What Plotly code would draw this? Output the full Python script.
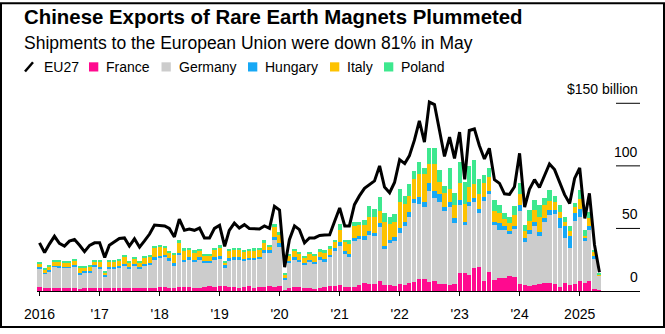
import pandas as pd
import plotly.graph_objects as go

# Monthly shipments, Jan 2016 - May 2025
months = pd.date_range("2016-01-01", "2025-05-01", freq="MS")

france = [
    3.4, 2.6, 2.8, 2.6, 2.6, 2.2, 2.4, 2.4, 2.0, 2.4, 2.6, 2.2,
    2.2, 2.4, 2.6, 2.4, 2.4, 2.8, 2.6, 2.4, 2.4, 2.8, 2.6, 2.8,
    3.2, 3.0, 2.8, 2.6, 3.0, 3.4, 3.2, 2.8, 2.6, 3.0, 3.6, 3.2,
    4.0, 3.6, 3.0, 3.2, 2.8, 3.4, 3.6, 2.8, 3.0, 3.2, 3.6, 3.4,
    3.8, 1.0, 2.8, 3.0, 3.2, 2.2, 2.4, 2.0, 2.6, 3.0, 3.8, 3.6,
    4.6, 3.0, 3.2, 3.4, 4.6, 6.0, 5.2, 5.4, 7.8, 4.8, 4.6, 3.6,
    5.2, 4.8, 6.5, 7.3, 9.9, 9.4, 7.3, 7.8, 5.5, 5.5, 4.7, 5.2,
    14.6, 14.6, 12.5, 18.2, 19.0, 7.8, 15.0, 9.0, 10.4, 10.4, 12.0, 11.2,
    5.2, 4.7, 4.2, 4.7, 5.7, 6.3, 6.3, 5.7, 3.4, 6.5, 4.7, 5.2,
    8.0, 6.0, 7.8, 1.6, 1.0,
]
germany = [
    14.8, 11.0, 13.0, 16.9, 16.2, 16.3, 16.1, 17.4, 11.5, 12.2, 12.5, 17.6,
    16.0, 9.4, 15.1, 15.8, 16.6, 17.5, 14.6, 17.9, 15.3, 17.5, 18.5, 22.7,
    23.3, 24.2, 21.4, 17.7, 26.4, 19.5, 21.8, 20.6, 22.4, 19.4, 18.8, 21.8,
    21.5, 14.9, 21.2, 22.3, 22.7, 20.8, 21.4, 22.2, 22.5, 27.5, 27.1, 37.6,
    31.7, 8.5, 19.2, 22.0, 19.7, 18.6, 21.0, 19.6, 22.4, 19.9, 23.0, 28.4,
    31.3, 26.4, 23.6, 36.4, 37.1, 35.1, 39.8, 38.9, 43.2, 28.5, 33.9, 36.4,
    41.2, 46.8, 52.4, 63.0, 59.9, 57.8, 72.9, 66.7, 65.5, 58.5, 62.5, 49.0,
    53.9, 38.3, 55.2, 52.8, 43.5, 64.1, 62.6, 43.9, 38.6, 38.6, 33.8, 38.3,
    58.8, 34.3, 41.6, 47.3, 38.0, 49.2, 54.4, 55.8, 46.9, 35.9, 29.9, 51.1,
    51.4, 33.8, 40.6, 23.9, 11.0,
]
hungary = [
    0.8, 0.8, 1.0, 0.8, 1.0, 1.0, 1.0, 1.0, 1.2, 1.0, 1.0, 1.2,
    0.8, 1.0, 1.1, 1.1, 1.0, 1.3, 1.6, 1.3, 1.3, 1.3, 1.3, 1.3,
    1.3, 1.4, 1.8, 2.1, 1.3, 2.1, 1.8, 1.6, 1.8, 1.8, 1.8, 1.8,
    2.1, 2.0, 1.8, 1.3, 1.5, 1.6, 1.6, 1.6, 1.6, 1.9, 1.9, 2.2,
    2.8, 0.5, 2.0, 1.8, 2.1, 1.3, 1.6, 1.8, 1.8, 2.6, 1.8, 2.6,
    3.1, 2.6, 2.6, 2.6, 2.1, 3.2, 2.7, 2.1, 3.0, 2.6, 2.6, 3.5,
    3.9, 3.9, 4.4, 3.4, 5.2, 3.8, 5.8, 5.7, 6.6, 3.2, 3.8, 3.8,
    3.9, 2.6, 3.3, 3.5, 3.4, 3.1, 2.6, 2.6, 5.2, 2.6, 1.9, 2.1,
    4.5, 3.4, 3.2, 3.5, 3.2, 2.5, 4.3, 3.5, 7.7, 9.2, 9.2, 6.2,
    6.5, 2.6, 3.2, 2.1, 0.5,
]
italy = [
    3.1, 2.8, 2.6, 3.4, 3.6, 3.5, 3.5, 3.4, 4.1, 3.4, 3.4, 2.8,
    4.4, 2.1, 4.6, 4.3, 4.4, 5.6, 3.8, 4.4, 3.9, 5.0, 5.0, 7.6,
    7.0, 6.0, 4.7, 6.2, 7.8, 7.0, 6.5, 5.7, 5.2, 3.4, 4.4, 6.5,
    7.0, 2.4, 6.0, 5.8, 5.8, 5.5, 5.7, 6.0, 6.2, 5.9, 2.6, 7.8,
    6.7, 3.0, 4.0, 5.2, 4.4, 4.7, 4.4, 4.2, 4.7, 5.2, 5.3, 4.4,
    10.0, 7.0, 7.8, 9.6, 9.1, 8.6, 11.7, 13.0, 10.0, 19.6, 12.5, 11.5,
    20.7, 14.3, 13.0, 15.6, 18.8, 22.7, 15.6, 21.4, 9.9, 10.8, 10.5, 10.5,
    14.3, 14.3, 11.8, 10.9, 11.7, 11.7, 10.8, 8.5, 7.8, 5.7, 7.0, 9.1,
    9.0, 5.6, 7.3, 9.1, 12.5, 10.5, 6.9, 6.0, 5.3, 3.9, 4.0, 5.0,
    7.8, 1.9, 6.4, 3.7, 0.5,
]
poland = [
    0.9, 0.8, 1.1, 1.3, 1.1, 1.0, 1.0, 1.3, 0.7, 0.8, 0.8, 0.8,
    1.1, 0.9, 1.1, 1.4, 1.4, 1.1, 1.2, 1.1, 0.8, 1.0, 1.1, 1.9,
    1.8, 1.4, 1.1, 2.1, 2.1, 2.6, 1.3, 2.1, 1.9, 1.8, 0.8, 1.3,
    2.4, 1.1, 1.9, 2.0, 1.8, 1.5, 1.6, 1.5, 1.3, 1.9, 1.5, 2.5,
    2.0, 1.5, 1.5, 1.9, 1.9, 1.2, 1.6, 1.8, 1.8, 1.9, 2.1, 2.0,
    4.6, 2.0, 3.4, 3.5, 2.6, 3.9, 8.3, 6.5, 11.5, 7.0, 5.8, 6.5,
    10.5, 6.5, 9.1, 6.5, 9.3, 4.7, 12.4, 12.4, 9.5, 6.0, 16.9, 9.5,
    16.3, 17.7, 16.9, 19.6, 11.7, 6.0, 7.4, 8.4, 6.5, 4.7, 4.7, 7.0,
    9.0, 4.7, 8.7, 8.3, 9.1, 6.0, 8.8, 5.3, 5.2, 3.9, 4.3, 3.0,
    7.0, 4.1, 5.3, 1.5, 0.6,
]
eu27 = [
    38.5, 30.7, 37.5, 43.7, 38.0, 35.9, 39.8, 41.1, 36.5, 31.5, 36.5, 38.5,
    38.5, 26.8, 36.5, 39.0, 42.0, 42.4, 35.9, 41.7, 35.0, 40.0, 45.5, 52.7,
    52.5, 52.0, 50.0, 43.2, 57.5, 48.5, 49.5, 48.5, 50.3, 42.4, 42.4, 50.0,
    52.5, 35.6, 48.5, 54.3, 50.3, 53.0, 50.0, 49.5, 49.5, 52.0, 50.0, 67.7,
    64.6, 19.0, 41.0, 52.0, 49.0, 38.5, 42.4, 42.4, 44.4, 44.8, 45.0, 55.5,
    66.3, 52.0, 52.0, 69.0, 76.0, 82.0, 85.0, 88.0, 100.0, 83.0, 78.5, 86.7,
    105.0, 101.8, 108.0, 120.5, 136.0, 119.0, 151.0, 149.0, 128.0, 107.5, 123.0, 106.0,
    127.0, 89.3, 128.3, 129.5, 116.3, 105.5, 114.0, 89.0, 86.0, 77.7, 77.2, 83.3,
    110.0, 67.0, 81.3, 89.0, 82.7, 93.0, 101.5, 97.0, 87.5, 77.0, 70.0, 90.0,
    98.3, 58.0, 78.0, 37.0, 15.0,
]

tick_dates = [f"{y}-01-01" for y in range(2016, 2026)]
tick_text = ["2016", "'17", "'18", "'19", "'20", "'21", "'22", "'23", "'24", "2025"]
y_ticks = [0, 50, 100, 150]
y_tick_text = ["0", "50", "100", "$150 billion"]

series = [
    ("France", france, "#ff0a8f"),
    ("Germany", germany, "#cccccc"),
    ("Hungary", hungary, "#17a8f5"),
    ("Italy", italy, "#fdc200"),
    ("Poland", poland, "#3de88e"),
]

FONT = "Liberation Sans, Arial, Helvetica, sans-serif"
W, H = 665, 334
ML, MR, MT, MB = 37, 25, 91, 38
PW, PH = W - ML - MR, H - MT - MB
BASE = MT + PH


def fx(px):
    return (px - ML) / PW


def fy(py):
    return (BASE - py) / PH


fig = go.Figure()
for name, vals, color in series:
    fig.add_trace(go.Bar(
        x=months, y=vals, name=name,
        marker=dict(color=color, line=dict(width=0)),
        showlegend=False,
    ))
fig.add_trace(go.Scatter(
    x=months, y=eu27, name="EU27", mode="lines",
    line=dict(color="#000000", width=3, shape="linear"),
    showlegend=False,
))

shapes = []
annotations = []

# right-hand value ticks: short rules with labels above
for v, t in zip(y_ticks, y_tick_text):
    if v > 0:
        shapes.append(dict(type="line", xref="paper", yref="y",
                           x0=fx(616), x1=1.0, y0=v, y1=v,
                           line=dict(color="#000000", width=1)))
    annotations.append(dict(text=t, xref="paper", yref="y", x=1.0, y=v,
                            xanchor="right", yanchor="middle", yshift=14,
                            showarrow=False,
                            font=dict(size=14, color="#000000", family=FONT)))

# titles
annotations.append(dict(text="<b>Chinese Exports of Rare Earth Magnets Plummeted</b>",
                        xref="paper", yref="paper", x=fx(22), y=fy(15),
                        xanchor="left", yanchor="middle", showarrow=False,
                        font=dict(size=20.4, color="#000000", family=FONT)))
annotations.append(dict(text="Shipments to the European Union were down 81% in May",
                        xref="paper", yref="paper", x=fx(22), y=fy(42),
                        xanchor="left", yanchor="middle", showarrow=False,
                        font=dict(size=17.5, color="#000000", family=FONT)))

# legend row
legend_y = 66.3
shapes.append(dict(type="line", xref="paper", yref="paper",
                   x0=fx(25), y0=fy(71), x1=fx(33), y1=fy(61.5),
                   line=dict(color="#000000", width=2.5)))
annotations.append(dict(text="EU27", xref="paper", yref="paper",
                        x=fx(41.5), y=fy(legend_y), xanchor="left", yanchor="middle",
                        showarrow=False, font=dict(size=14, color="#000000", family=FONT)))
legend_pos = [(89, 104), (161.5, 176.5), (248, 262.5), (330, 344.5), (384, 398.5)]
for (name, _, color), (sx, tx) in zip(series, legend_pos):
    shapes.append(dict(type="rect", xref="paper", yref="paper",
                       x0=fx(sx), x1=fx(sx + 9.3), y0=fy(legend_y - 4.7), y1=fy(legend_y + 4.7),
                       fillcolor=color, line=dict(width=0)))
    annotations.append(dict(text=name, xref="paper", yref="paper",
                            x=fx(tx), y=fy(legend_y), xanchor="left", yanchor="middle",
                            showarrow=False, font=dict(size=14, color="#000000", family=FONT)))

# frame around the whole graphic
shapes.append(dict(type="rect", xref="paper", yref="paper",
                   x0=fx(1), x1=fx(W - 1), y0=fy(H - 1), y1=fy(1),
                   line=dict(color="#000000", width=2), fillcolor="rgba(0,0,0,0)"))

fig.update_layout(
    width=W, height=H,
    margin=dict(l=ML, r=MR, t=MT, b=MB, pad=0),
    paper_bgcolor="#ffffff", plot_bgcolor="#ffffff",
    barmode="stack", bargap=0.1,
    font=dict(family=FONT, size=14, color="#000000"),
    showlegend=False,
    xaxis=dict(
        type="date",
        range=["2015-12-16 19:00", "2026-01-03"],
        tickvals=tick_dates, ticktext=tick_text,
        ticks="outside", ticklen=4, tickwidth=1, tickcolor="#000000",
        showline=True, linecolor="#000000", linewidth=1,
        showgrid=False, zeroline=False,
        tickfont=dict(size=14, color="#000000", family=FONT),
        ticklabelstandoff=6,
    ),
    yaxis=dict(range=[0, PH / 1.2827], visible=False, fixedrange=True),
    shapes=shapes,
    annotations=annotations,
)

fig.write_html("out.html")
